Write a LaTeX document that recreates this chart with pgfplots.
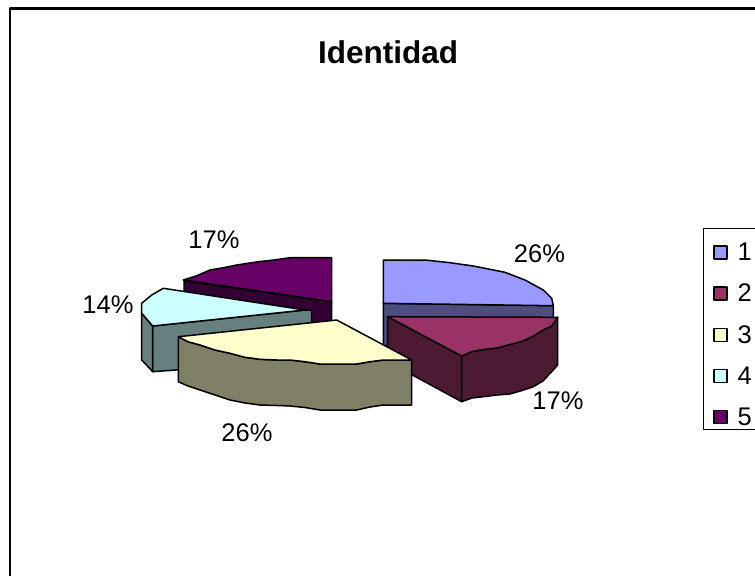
\documentclass[border=0pt]{standalone}
\usepackage{pgfplots}
\pgfplotsset{compat=1.18}
\usepackage{fontspec}
\setmainfont{Liberation Sans}
\definecolor{c1}{HTML}{9999FF}\definecolor{s1}{HTML}{4D4D80}
\definecolor{c2}{HTML}{993366}\definecolor{s2}{HTML}{4D1A33}
\definecolor{c3}{HTML}{FFFFCC}\definecolor{s3}{HTML}{808066}
\definecolor{c4}{HTML}{CCFFFF}\definecolor{s4}{HTML}{668080}
\definecolor{c5}{HTML}{660066}\definecolor{s5}{HTML}{330033}
\begin{document}
\begin{tikzpicture}
\path[use as bounding box] (0,0) rectangle (755pt,576pt);
\begin{axis}[
  scale only axis, width=755pt, height=576pt,
  xmin=0, xmax=755, ymin=0, ymax=576, y dir=reverse,
  hide axis, clip=false,
  every axis plot/.append style={mark=none, draw=black, line width=1.5pt, line join=round},
  legend style={at={(axis cs:706,235.7)}, anchor=north west, draw=none, fill=none,
    font=\fontsize{25.5}{28}\selectfont, row sep=18pt, column sep=8pt, inner xsep=7pt, inner ysep=5pt},
  legend cell align=left,
  legend image code/.code={\draw[#1, line width=1.4pt] (0pt,-6.5pt) rectangle (13pt,6.5pt);},
]
% outer frame
\addplot[forget plot, line width=2.4pt] coordinates {(9.7,576) (9.7,8.3) (755,8.3)};
% legend box
\addplot[forget plot, line width=0.9pt] coordinates {(755,228) (703,228) (703,429) (755,429)};
% slice 5
\addplot[forget plot, fill=s5] coordinates {(184,281) (331.7,301.7) (331.7,322) (184,322)} --cycle;
\addplot[forget plot, fill=c5] coordinates {(331.7,257.7) (290,257.7) (274,260) (258.3,261.7) (236.7,265) (222,268) (210,270) (196,276) (183.3,280) (331.7,301.7)} --cycle;
% slice 4
\addplot[forget plot, fill=s4] coordinates {(152.7,326) (305,310) (311.7,310) (311.7,360) (152.7,371.7)} --cycle;
\addplot[forget plot, fill=s4] coordinates {(141.7,313.3) (152.7,326) (152.7,371.7) (141.7,360)} --cycle;
\addplot[forget plot, fill=c4] coordinates {(163.3,288.3) (305,310) (152.7,326) (141.7,313.3) (141.7,303.3) (151.7,295)} --cycle;
% slice 1
\addplot[forget plot, fill=s1] coordinates {(383.3,303.3) (553.3,305.7) (553.3,320) (383.3,346)} --cycle;
\addplot[forget plot, fill=c1] coordinates {(383.3,260) (425,260) (450,262.7) (473.3,266) (505,272.3) (525,280) (543.3,290) (551.7,298.3) (553.3,305.7) (383.3,303.3)} --cycle;
% slice 2
\addplot[forget plot, fill=s2] coordinates {(387.7,316.7) (461.7,356) (461.7,401.7) (387.7,361.7)} --cycle;
\addplot[forget plot, fill=s2] coordinates {(461.7,356) (472,351.5) (483.3,349.5) (497,348) (510,344.5) (523,341) (533.3,336) (545,329) (551.7,326) (557.7,317.3) (557.7,365) (551.7,371.7) (543,381) (533.3,386.7) (522,390.5) (510,394) (497,395) (483.3,396.7) (472,398) (461.7,401.7)} --cycle;
\addplot[forget plot, fill=c2] coordinates {(387.7,316.7) (557.7,317.3) (551.7,326) (545,329) (533.3,336) (523,341) (510,344.5) (497,348) (483.3,349.5) (472,351.5) (461.7,356)} --cycle;
% slice 3
\addplot[forget plot, fill=s3] coordinates {(178.3,336.7) (188,341.7) (200,345) (215,350) (230,353.3) (245,357.3) (260,359.3) (277,360) (290,360) (305,361.7) (320,364) (337,364) (356.7,364) (370,361.7) (383.3,360) (411.7,360) (411.7,405) (383.3,405) (370,407) (356.7,410) (337,410) (320,410) (305,407.5) (290,406) (277,405.5) (260,405) (245,403) (230,400) (215,395) (200,390) (188,386) (178.3,381.7)} --cycle;
\addplot[forget plot, fill=c3] coordinates {(178.3,336.7) (336.7,320) (411.7,360) (383.3,360) (370,361.7) (356.7,364) (337,364) (320,364) (305,361.7) (290,360) (277,360) (260,359.3) (245,357.3) (230,353.3) (215,350) (200,345) (188,341.7)} --cycle;
% legend
\addlegendimage{fill=c1}\addlegendentry{1}
\addlegendimage{fill=c2}\addlegendentry{2}
\addlegendimage{fill=c3}\addlegendentry{3}
\addlegendimage{fill=c4}\addlegendentry{4}
\addlegendimage{fill=c5}\addlegendentry{5}
% labels
\node[font=\bfseries\fontsize{31.5}{36}\selectfont, anchor=center] at (axis cs:388,52) {Identidad};
\node[font=\fontsize{25.5}{28}\selectfont] at (axis cs:539.5,254) {26\%};
\node[font=\fontsize{25.5}{28}\selectfont] at (axis cs:558,401) {17\%};
\node[font=\fontsize{25.5}{28}\selectfont] at (axis cs:247,433) {26\%};
\node[font=\fontsize{25.5}{28}\selectfont] at (axis cs:108,305) {14\%};
\node[font=\fontsize{25.5}{28}\selectfont] at (axis cs:214,240) {17\%};
\end{axis}
\end{tikzpicture}
\end{document}
